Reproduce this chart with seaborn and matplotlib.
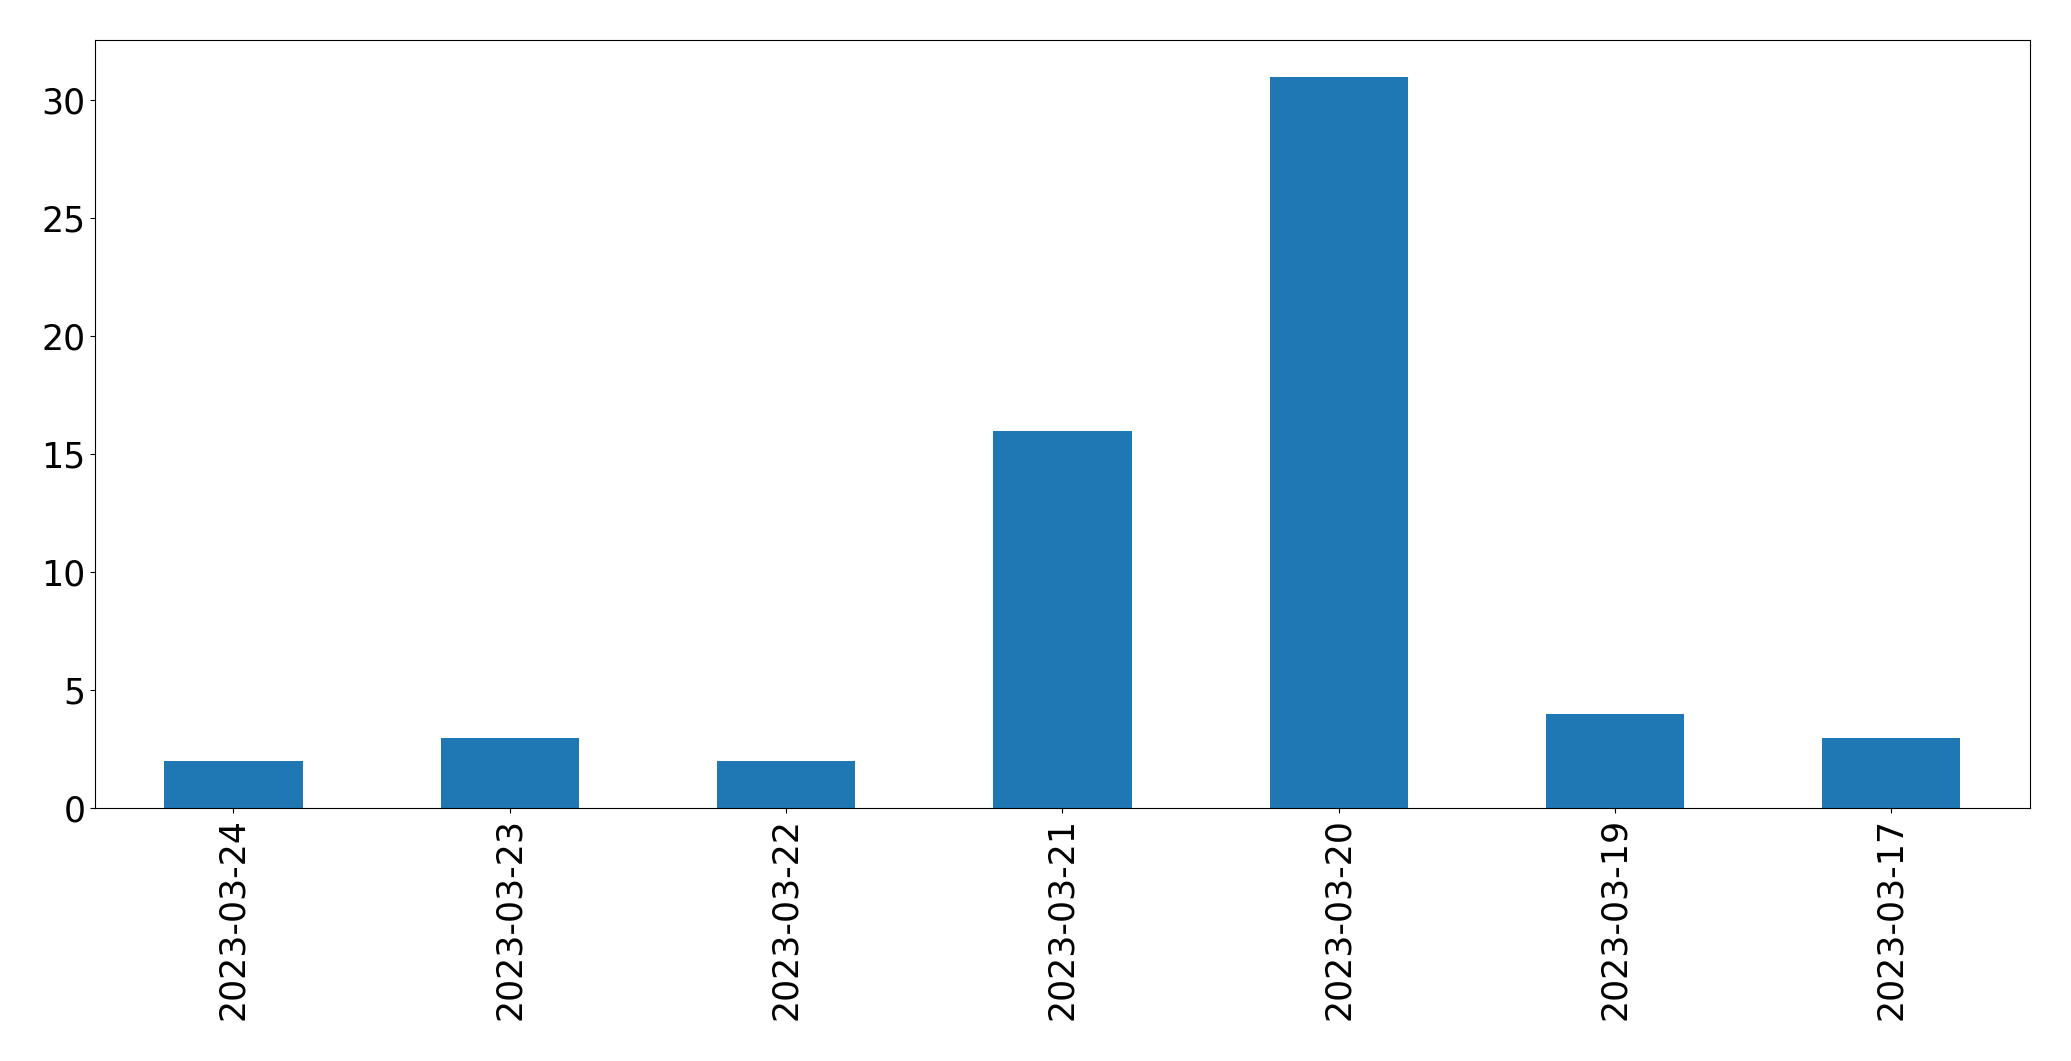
import matplotlib
matplotlib.use("Agg")
import matplotlib.pyplot as plt
import pandas as pd
import seaborn as sns

dates = ["2023-03-24", "2023-03-23", "2023-03-22", "2023-03-21",
         "2023-03-20", "2023-03-19", "2023-03-17"]
counts = [2, 3, 2, 16, 31, 4, 3]

df = pd.DataFrame({"date": dates, "count": counts})

plt.rcParams["font.family"] = ["DejaVu Sans"]

fig, ax = plt.subplots(figsize=(20.71, 10.61), dpi=100)
sns.barplot(data=df, x="date", y="count", color="#1f77b4", saturation=1,
            width=0.5, ax=ax)
ax.set_xlabel("")
ax.set_ylabel("")
ax.set_xlim(-0.5, len(dates) - 0.5)
ax.tick_params(axis="both", labelsize=25)
ax.tick_params(axis="x", rotation=90)
fig.subplots_adjust(left=0.046, right=0.980, top=0.962, bottom=0.238)
fig.savefig("out.png", dpi=100)
